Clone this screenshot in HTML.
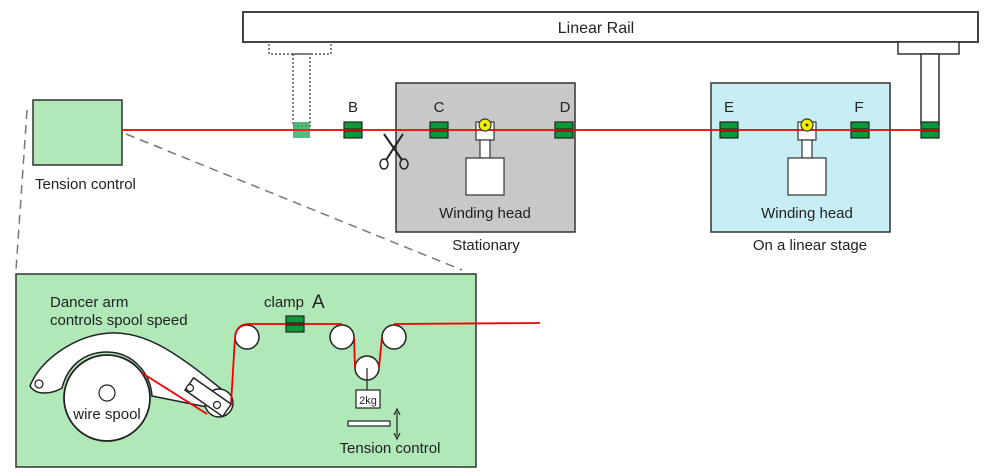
<!DOCTYPE html>
<html><head><style>body{margin:0;background:#fff}svg{display:block}text{font-family:"Liberation Sans",sans-serif;fill:#222}</style></head>
<body>
<svg width="987" height="476" viewBox="0 0 987 476" xmlns="http://www.w3.org/2000/svg">
<defs>
<g id="clamp"><rect x="0" y="0" width="18" height="7" fill="#0a9a3a" stroke="#222" stroke-width="1.2"/><rect x="0" y="9" width="18" height="7" fill="#0a9a3a" stroke="#222" stroke-width="1.2"/></g>
</defs>
<rect x="243" y="12" width="735" height="30" fill="#fff" stroke="#444" stroke-width="2"/>
<text x="596" y="33" font-size="16" text-anchor="middle">Linear Rail</text>
<rect x="269" y="42" width="62" height="12" fill="none" stroke="#555" stroke-width="1.5" stroke-dasharray="2,2"/>
<rect x="293" y="54" width="17" height="72" fill="none" stroke="#555" stroke-width="1.5" stroke-dasharray="2,2"/>
<rect x="293" y="122" width="17" height="7" fill="#2aa85a" opacity="0.8"/>
<rect x="293" y="131" width="17" height="7" fill="#2aa85a" opacity="0.8"/>
<rect x="898" y="42" width="61" height="12" fill="#fff" stroke="#333" stroke-width="1.5"/>
<rect x="921" y="54" width="18" height="70" fill="#fff" stroke="#333" stroke-width="1.5"/>
<use href="#clamp" x="921" y="122"/>
<rect x="33" y="100" width="89" height="65" fill="#b0e8b8" stroke="#333" stroke-width="1.5"/>
<text x="35" y="189" font-size="15">Tension control</text>
<line x1="27" y1="110" x2="16" y2="270" stroke="#777" stroke-width="1.5" stroke-dasharray="9,6"/>
<line x1="126" y1="134" x2="462" y2="270" stroke="#777" stroke-width="1.5" stroke-dasharray="9,6"/>
<rect x="396" y="83" width="179" height="149" fill="#c8c8c8" stroke="#333" stroke-width="1.5"/>
<rect x="476" y="122" width="18" height="18" fill="#fff" stroke="#333" stroke-width="1.2"/>
<rect x="480" y="140" width="10" height="18" fill="#fff" stroke="#333" stroke-width="1.2"/>
<rect x="466" y="158" width="38" height="37" fill="#fff" stroke="#333" stroke-width="1.2"/>
<text x="485" y="218" font-size="15" text-anchor="middle">Winding head</text>
<text x="486" y="250" font-size="15" text-anchor="middle">Stationary</text>
<rect x="711" y="83" width="179" height="149" fill="#c8eef5" stroke="#333" stroke-width="1.5"/>
<rect x="798" y="122" width="18" height="18" fill="#fff" stroke="#333" stroke-width="1.2"/>
<rect x="802" y="140" width="10" height="18" fill="#fff" stroke="#333" stroke-width="1.2"/>
<rect x="788" y="158" width="38" height="37" fill="#fff" stroke="#333" stroke-width="1.2"/>
<text x="807" y="218" font-size="15" text-anchor="middle">Winding head</text>
<text x="810" y="250" font-size="15" text-anchor="middle">On a linear stage</text>
<use href="#clamp" x="344" y="122"/>
<use href="#clamp" x="430" y="122"/>
<use href="#clamp" x="555" y="122"/>
<use href="#clamp" x="720" y="122"/>
<use href="#clamp" x="851" y="122"/>
<text x="353" y="112" font-size="15" text-anchor="middle">B</text>
<text x="439" y="112" font-size="15" text-anchor="middle">C</text>
<text x="565" y="112" font-size="15" text-anchor="middle">D</text>
<text x="729" y="112" font-size="15" text-anchor="middle">E</text>
<text x="859" y="112" font-size="15" text-anchor="middle">F</text>
<line x1="122" y1="130" x2="940" y2="130" stroke="#e00" stroke-width="1.8"/>
<circle cx="485" cy="125" r="6" fill="#f0f000" stroke="#333" stroke-width="1.2"/><circle cx="485" cy="125" r="1.5" fill="#333"/>
<circle cx="807" cy="125" r="6" fill="#f0f000" stroke="#333" stroke-width="1.2"/><circle cx="807" cy="125" r="1.5" fill="#333"/>
<g stroke="#222" stroke-width="2" fill="none">
<line x1="384" y1="134" x2="402" y2="160"/><line x1="403" y1="134" x2="386" y2="160"/>
<ellipse cx="384" cy="164" rx="4" ry="5" stroke-width="1.5"/><ellipse cx="404" cy="164" rx="4" ry="5" stroke-width="1.5"/>
</g>
<rect x="16" y="274" width="460" height="193" fill="#b0e8b8" stroke="#333" stroke-width="1.5"/>
<text x="50" y="307" font-size="15">Dancer arm</text>
<text x="50" y="325" font-size="15">controls spool speed</text>
<text x="264" y="307" font-size="15">clamp</text>
<text x="312" y="308" font-size="19">A</text>
<!-- dancer arm -->
<path d="M30 386 C 40 360, 75 335, 110 333 C 150 331, 185 360, 225 392 L 212 408 L 152 396 C 150 370, 130 352, 107 352 C 85 352, 68 365, 62 388 C 52 394, 36 396, 30 386 Z" fill="#fff" stroke="#222" stroke-width="1.5"/>
<circle cx="39" cy="384" r="4" fill="#fff" stroke="#222" stroke-width="1.2"/>
<circle cx="107" cy="398" r="43" fill="#fff" stroke="#222" stroke-width="1.8"/>
<circle cx="107" cy="393" r="8" fill="#fff" stroke="#222" stroke-width="1.2"/>
<text x="107" y="419" font-size="15" text-anchor="middle">wire spool</text>
<circle cx="219" cy="403" r="14" fill="#fff" stroke="#222" stroke-width="1.5"/>
<g transform="rotate(35 207 397)"><rect x="185" y="389" width="46" height="15" fill="#fff" stroke="#222" stroke-width="1.5"/></g>
<circle cx="190" cy="388" r="3.5" fill="#fff" stroke="#222" stroke-width="1.2"/>
<circle cx="217" cy="405" r="3.5" fill="#fff" stroke="#222" stroke-width="1.2"/>
<circle cx="247" cy="337" r="12" fill="#fff" stroke="#222" stroke-width="1.5"/>
<circle cx="342" cy="337" r="12" fill="#fff" stroke="#222" stroke-width="1.5"/>
<circle cx="394" cy="337" r="12" fill="#fff" stroke="#222" stroke-width="1.5"/>
<circle cx="367" cy="368" r="12" fill="#fff" stroke="#222" stroke-width="1.5"/>
<path d="M142 373 L207 414 M231 404 L235 338 Q236 324 249 324 L342 324 M354 337 L355 368 M379 368 L382 337 M394 324 L540 323" fill="none" stroke="#e00" stroke-width="1.8"/>
<use href="#clamp" x="286" y="316"/>
<line x1="367" y1="368" x2="367" y2="390" stroke="#222" stroke-width="1.2"/>
<rect x="356" y="390" width="24" height="18" fill="#fff" stroke="#222" stroke-width="1.2"/>
<text x="368" y="404" font-size="11" text-anchor="middle">2kg</text>
<rect x="348" y="421" width="42" height="5" fill="#fff" stroke="#222" stroke-width="1.2"/>
<line x1="397" y1="412" x2="397" y2="436" stroke="#222" stroke-width="1.2"/>
<path d="M394 415 L397 409 L400 415 M394 433 L397 439 L400 433" fill="none" stroke="#222" stroke-width="1.2"/>
<text x="390" y="453" font-size="15" text-anchor="middle">Tension control</text>
</svg>
</body></html>
